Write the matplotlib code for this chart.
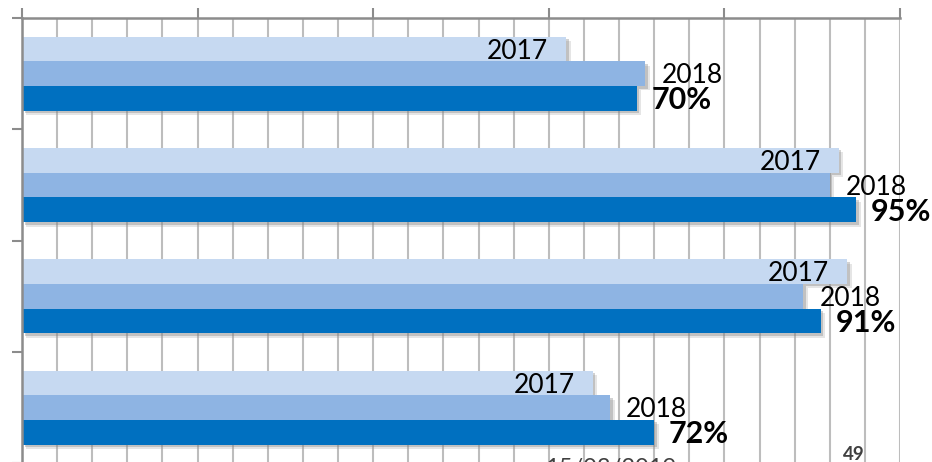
import numpy as np
import matplotlib
matplotlib.use("Agg")
import matplotlib.pyplot as plt
import matplotlib.patheffects as pe

# Survey results per group, three years
groups = ["G1", "G2", "G3", "G4"]
series_names = ["2017", "2018", "2019"]
vals_2017 = [62, 93, 94, 65]
vals_2018 = [71, 92, 89, 67]
vals_2019 = [70, 95, 91, 72]

colors = ["#C6D9F1", "#8EB4E3", "#0070C0"]
FONT = ["Lato", "DejaVu Sans"]

W, H = 932, 462
fig = plt.figure(figsize=(W / 100, H / 100), dpi=100)
ax = fig.add_axes([22 / W, (H - 463.3) / H, 878 / W, 445.3 / H])

ax.set_xlim(0, 100)
ax.set_ylim(len(groups), 0)

bar_h = 0.222
centers = np.arange(len(groups)) + 0.5
all_vals = [vals_2017, vals_2018, vals_2019]
# soft drop shadow: two offset layers under each bar
shadow = [pe.SimplePatchShadow(offset=(3.2, -3.2), shadow_rgbFace="#9a9a9a", alpha=0.25),
          pe.SimplePatchShadow(offset=(1.8, -1.8), shadow_rgbFace="#7f7f7f", alpha=0.35),
          pe.Normal()]

for k, (vals, col) in enumerate(zip(all_vals, colors)):
    ypos = centers + (k - 1) * bar_h
    bars = ax.barh(ypos, vals, height=bar_h, color=col, zorder=2 + k * 0.01)
    for b in bars:
        b.set_path_effects(shadow)

# data labels (baseline placed so digits sit centred on the bar)
for i, y in enumerate(centers):
    ax.annotate(series_names[0], xy=(vals_2017[i], y - bar_h), xytext=(-13, -6.9),
                textcoords="offset points", ha="right", va="baseline",
                fontsize=19, family=FONT, color="black", zorder=5)
    ax.annotate(series_names[1], xy=(vals_2018[i], y), xytext=(11.5, -6.9),
                textcoords="offset points", ha="left", va="baseline",
                fontsize=19, family=FONT, color="black", zorder=5)
    ax.annotate(f"{vals_2019[i]}%", xy=(vals_2019[i], y + bar_h), xytext=(10.5, -8.0),
                textcoords="offset points", ha="left", va="baseline",
                fontsize=22, family=FONT, fontweight="bold", color="black", zorder=5)

# axes styling
axis_col = "#8c8c8c"
ax.xaxis.tick_top()
ax.set_xticks(np.arange(0, 101, 20))
ax.set_xticks(np.arange(0, 101, 4), minor=True)
ax.set_xticklabels([])
ax.tick_params(axis="x", which="major", direction="out", length=7.2, width=1.5, color=axis_col)
ax.tick_params(axis="x", which="minor", length=0)
ax.grid(axis="x", which="both", color="#bdbdbd", lw=1.5, zorder=0)
ax.set_axisbelow(True)

ax.set_yticks(np.arange(len(groups) + 1))
ax.set_yticklabels([])
ax.tick_params(axis="y", direction="out", length=7.2, width=1.5, color=axis_col)

for s in ["right", "bottom"]:
    ax.spines[s].set_visible(False)
for s in ["top", "left"]:
    ax.spines[s].set_color(axis_col)
    ax.spines[s].set_linewidth(1.8)

# slide footer
fig.text(843 / W, (H - 460.5) / H, "49", ha="left", va="baseline",
         fontsize=13.5, fontweight="bold", family=FONT, color="#404040")
fig.text(545 / W, (H - 475) / H, "15/03/2019", ha="left", va="baseline",
         fontsize=17, family=FONT, color="#404040")

fig.savefig("out.png", dpi=100)
